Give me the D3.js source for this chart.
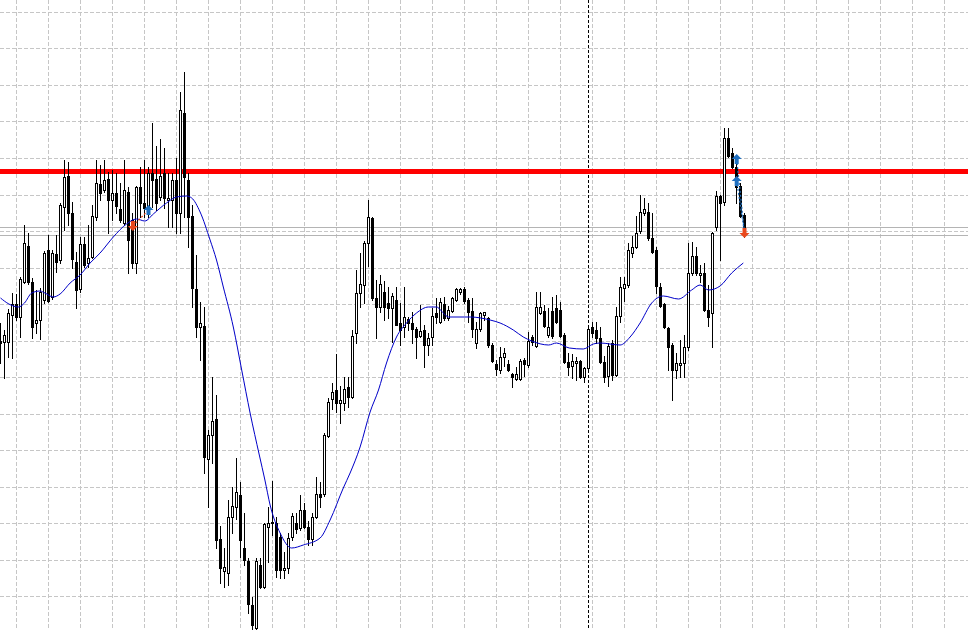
<!DOCTYPE html>
<html>
<head>
<meta charset="utf-8">
<script src="https://cdn.jsdelivr.net/npm/d3@7"></script>
<style>
html,body{margin:0;padding:0;background:#fff;overflow:hidden;}
svg{display:block;}
</style>
</head>
<body>
<div id="chart"></div>
<script>
// Price data (arbitrary points units), one entry per bar
const openVals = [
659,658,658,685,696,683,718,754,718,677,
680,700,750,703,746,740,793,824,787,738,
711,756,737,743,783,816,810,821,800,807,
791,777,808,780,737,813,797,793,827,821,
803,827,800,800,820,787,887,820,784,711,
673,674,541,565,581,461,429,427,483,493,
505,452,439,395,372,435,413,473,477,477,
463,430,432,463,477,472,490,473,461,483,
506,506,564,601,610,597,597,613,603,667,
707,715,757,782,702,693,708,697,692,700,
677,673,681,677,671,664,670,655,663,687,
678,696,682,689,700,708,711,700,689,657,
671,685,682,655,636,630,643,636,626,621,
621,640,635,663,654,687,689,665,689,692,
690,665,638,634,637,639,623,632,673,670,
662,638,624,657,625,684,712,715,747,753,
769,787,788,762,750,713,696,672,655,630,
635,637,653,727,744,725,727,690,687,773,
804,798,862,847,833,814,785];
const highVals = [
677,670,691,707,706,723,775,767,722,710,
712,749,765,750,765,797,840,838,798,748,
763,763,775,795,840,835,840,828,830,827,
817,840,813,787,814,833,840,833,877,854,
861,852,827,827,842,908,928,827,795,745,
698,693,570,623,605,474,452,500,513,542,
518,487,442,403,442,442,477,493,519,483,
467,448,467,487,487,505,497,479,487,523,
518,567,602,617,646,614,623,623,670,730,
747,759,800,783,720,725,719,713,707,713,
697,713,683,688,673,695,675,667,692,702,
702,703,694,703,712,712,713,702,702,678,
688,688,683,657,640,653,652,640,627,633,
641,642,668,665,708,708,695,692,703,705,
698,667,647,646,643,640,633,675,678,678,
673,644,657,660,693,723,723,757,764,784,
805,802,797,787,753,717,697,673,657,647,
660,665,757,758,753,735,737,715,768,809,
805,872,872,852,837,817,787];
const lowVals = [
637,622,643,642,680,663,717,716,662,667,
661,697,698,701,728,737,770,775,732,692,
708,733,733,742,780,800,808,767,780,787,
778,775,727,732,727,783,783,783,793,790,
800,792,773,773,767,767,783,753,693,663,
640,527,493,537,452,417,413,415,467,481,
443,435,387,368,370,412,412,438,465,423,
422,422,427,460,467,470,472,455,455,482,
493,504,563,591,588,577,590,593,602,657,
693,697,734,700,662,688,680,682,658,675,
655,663,670,657,642,663,633,645,655,677,
677,680,680,688,699,706,697,678,663,652,
669,680,653,638,625,627,634,629,613,620,
620,624,633,655,653,686,673,663,662,677,
663,637,625,622,620,622,618,630,663,657,
637,618,614,620,624,678,699,713,743,752,
767,785,760,747,707,693,672,630,600,622,
623,623,650,725,725,718,689,674,653,770,
740,795,843,832,797,783,763];
const closeVals = [
657,665,687,696,683,721,757,718,673,680,
708,747,699,747,738,795,823,787,741,710,
756,735,742,784,817,807,820,800,807,794,
780,810,760,737,813,797,792,827,820,797,
824,802,802,820,787,890,823,783,712,673,
677,543,565,579,460,432,433,483,494,508,
460,440,396,375,439,413,476,477,478,430,
430,432,462,484,471,490,473,461,483,506,
503,565,598,608,597,600,611,603,664,707,
716,757,783,702,693,716,693,692,704,675,
670,683,677,671,663,669,655,662,684,683,
698,682,690,702,711,711,699,688,671,671,
687,688,655,639,631,643,647,630,623,626,
639,636,659,658,693,693,674,673,664,678,
664,638,633,639,639,623,632,671,667,662,
638,623,654,625,684,713,716,750,753,767,
788,791,762,748,714,694,673,653,630,637,
637,653,727,744,727,727,690,683,767,804,
797,862,844,833,813,784,772];

// Moving average readings: bar position and value
const maBar = [0,2.1,4.5,6,7.8,9.9,11.1,13.2,14.9,17.4,19.9,22.4,24.9,28.2,31.5,34,36.1,38.2,41.5,44,46.5,47.8,49.9,52.4,54,55.7,58.2,60.3,62.4,64.7,66.1,67.4,69.9,72.8,75.7,79.9,82.4,85.7,87.4,89.9,92.4,94.5,96.5,99,101.5,104,107,109,110.7,112,117.4,122.4,124.9,128.2,130.7,132.8,137,139,142.2,145.7,148.2,149.9,154.9,157.4,159.9,162.8,165.7,169.5,172.8,174.9,177,179.9,182.8,185.7];
const maVal = [702,696,693,697,707,709,707,703,706,717,725,737,747,763,776,781,779,786,797,803,804,802,788,760,740,713,673,630,587,545,520,495,467,452,455,462,480,512,527,553,588,610,637,663,677,687,693,693,687,683,683,680,677,670,663,659,655,657,652,651,656,657,655,663,677,697,704,701,710,715,710,714,727,737];

// Horizontal levels
const resistanceLevel = 828.5;
const bidAskLevels = [772.5, 764.5];
// Grid ticks
const gridPrices = d3.range(17).map(k => 987.5 - 36.5 * k);
const gridBars = d3.range(4, 250, 8);
const separatorBar = 147;

// Trade markers
const tradeBar = [33.1, 37, 184.05, 184.05, 186];
const tradePrice = [774, 790, 841, 819, 767];
const tradeType = ["sell", "buy", "buy", "buy", "sell"];
const tradeLinks = [[0,1],[2,4],[3,4]];

const W = 968, H = 630;
const x = d3.scaleLinear().domain([0, 186]).range([0.5, 744.5]);
const y = d3.scaleLinear().domain([370, 1000]).range([630, 0]);
const px = v => Math.floor(v) + 0.5;

const svg = d3.select("#chart").append("svg").attr("width", W).attr("height", H);
svg.append("rect").attr("width", W).attr("height", H).attr("fill", "#ffffff");

// grid
const g = svg.append("g").attr("shape-rendering", "crispEdges");
g.selectAll(".hg").data(gridPrices).join("line")
  .attr("x1", 0).attr("x2", W)
  .attr("y1", d => px(y(d))).attr("y2", d => px(y(d)))
  .attr("stroke", "#c6c6c6").attr("stroke-dasharray", "4,2");
g.selectAll(".vg").data(gridBars).join("line")
  .attr("x1", d => px(x(d))).attr("x2", d => px(x(d)))
  .attr("y1", 0).attr("y2", H)
  .attr("stroke", "#c6c6c6").attr("stroke-dasharray", "4,2");

// bid/ask lines
g.selectAll(".ba").data(bidAskLevels).join("line")
  .attr("x1", 0).attr("x2", W)
  .attr("y1", d => px(y(d))).attr("y2", d => px(y(d)))
  .attr("stroke", "#b4b4b4");

// period separator
g.append("line")
  .attr("x1", px(x(separatorBar))).attr("x2", px(x(separatorBar)))
  .attr("y1", 0).attr("y2", H)
  .attr("stroke", "#000").attr("stroke-dasharray", "3,2");

// resistance line
svg.append("line")
  .attr("x1", 0).attr("x2", W)
  .attr("y1", y(resistanceLevel)).attr("y2", y(resistanceLevel))
  .attr("stroke", "#ff0000").attr("stroke-width", 5)
  .attr("shape-rendering", "crispEdges");

// candles
const bars = d3.range(openVals.length).map(i => ({
  i, o: openVals[i], h: highVals[i], l: lowVals[i], c: closeVals[i]
}));
const cg = svg.append("g").attr("shape-rendering", "crispEdges");
const cand = cg.selectAll("g").data(bars).join("g");
cand.append("line")
  .attr("x1", d => px(x(d.i))).attr("x2", d => px(x(d.i)))
  .attr("y1", d => Math.round(y(d.h))).attr("y2", d => Math.round(y(d.l)) + 1)
  .attr("stroke", "#000");
cand.append("rect")
  .attr("x", d => px(x(d.i)) - 1)
  .attr("width", 2)
  .attr("y", d => Math.round(y(Math.max(d.o, d.c))) + 0.5)
  .attr("height", d => Math.max(1, Math.round(y(Math.min(d.o, d.c))) - Math.round(y(Math.max(d.o, d.c)))))
  .attr("fill", d => d.c >= d.o ? "#ffffff" : "#000000")
  .attr("stroke", "#000");

// moving average
const maPts = maBar.map((b, k) => [b, maVal[k]]);
svg.append("path")
  .datum(maPts)
  .attr("fill", "none")
  .attr("stroke", "#0000c8")
  .attr("stroke-width", 1)
  .attr("d", d3.line().x(d => x(d[0])).y(d => y(d[1])).curve(d3.curveMonotoneX));

// trade links
svg.selectAll(".tl").data(tradeLinks).join("line")
  .attr("x1", d => x(tradeBar[d[0]])).attr("y1", d => y(tradePrice[d[0]]))
  .attr("x2", d => x(tradeBar[d[1]])).attr("y2", d => y(tradePrice[d[1]]))
  .attr("stroke", d => tradeType[d[0]] === "buy" ? "#1e6fc0" : "#e8481c")
  .attr("stroke-width", 1.2)
  .attr("stroke-dasharray", "2,2");

// trade markers
const arrowUp = "M0,-5 L5,0 L2,0 L2,5 L-2,5 L-2,0 L-5,0 Z";
const arrowDown = "M0,5 L5,0 L2,0 L2,-5 L-2,-5 L-2,0 L-5,0 Z";
svg.selectAll(".tm").data(tradeBar.map((b, k) => ({b, p: tradePrice[k], t: tradeType[k]}))).join("path")
  .attr("transform", d => `translate(${x(d.b)},${y(d.p)})`)
  .attr("d", d => d.t === "buy" ? arrowUp : arrowDown)
  .attr("fill", d => d.t === "buy" ? "#1e6fc0" : "#e8481c");
</script>
</body>
</html>
